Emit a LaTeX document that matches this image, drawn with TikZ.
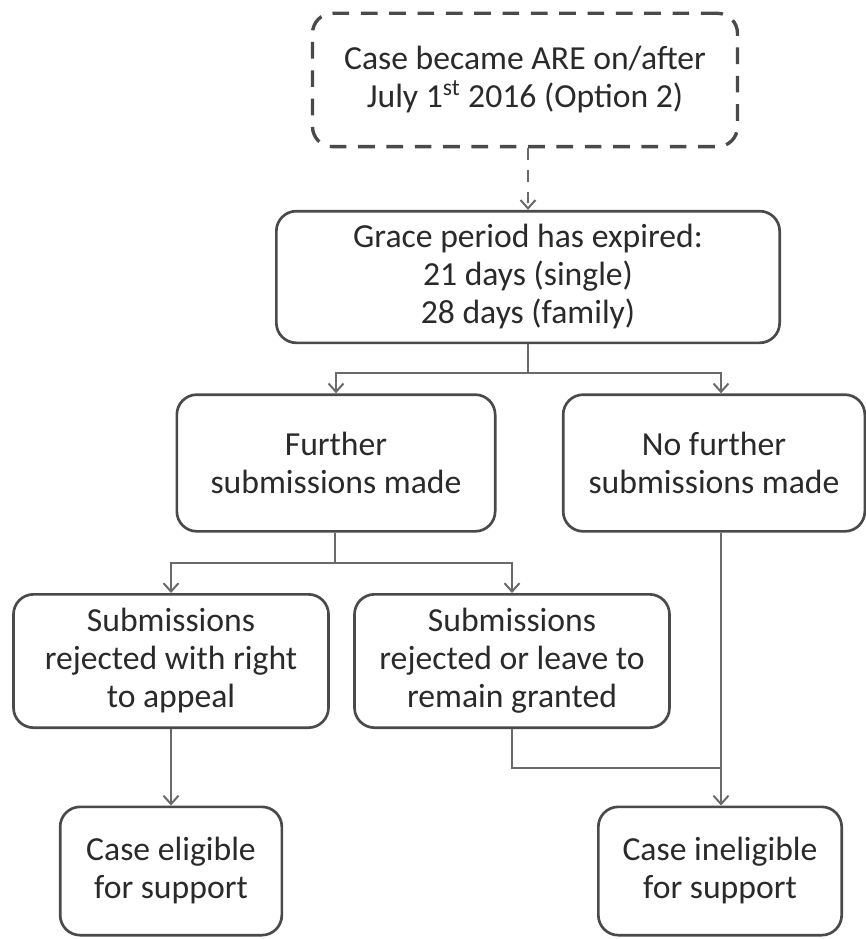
\documentclass[tikz,border=0pt]{standalone}
\usepackage{fontspec}
\setmainfont{Carlito}
\usetikzlibrary{arrows.meta}
\usetikzlibrary{positioning}
\definecolor{boxline}{HTML}{4A4A4A}
\definecolor{linkline}{HTML}{6A6A6A}
\definecolor{textgray}{HTML}{2A2A2A}
\tikzset {
  flow path/.style = {
    draw = linkline,
    line width = 1.2pt
  },
  % path style with an open arrow at the end
  arr/.style = {
    flow path,
    -{Straight Barb[length=5pt, width=9pt]}
  },
  % path style with no arrows
  narr/.style = {
    flow path
  }
}
\tikzset {
  flow node/.style = {
    draw = boxline,
    line width = 1.6pt,
    rounded corners = 12pt,
    text = textgray,
    align = center,
    inner sep = 0pt,
    font = \fontsize{20.2}{22.8}\selectfont
  },
  % step of the procedure
  stage/.style = {
    flow node,
    rectangle
  },
  % starting condition
  start/.style = {
    flow node,
    line width = 2pt,
    dashed,
    dash pattern = on 10pt off 7pt
  }
}

\begin{document}
\begin{tikzpicture}[x=0.6pt, y=-0.6pt]
    \useasboundingbox (0,0) rectangle (866,939);

    \node[start, minimum width=255pt, minimum height=80pt] (option) at (525,80)
      {Case became ARE on/after\\July 1\textsuperscript{st} 2016 (Option 2)};
    \node[stage, minimum width=302pt, minimum height=79pt] (grace) at (528,277)
      {Grace period has expired:\\21 days (single)\\28 days (family)};
    \coordinate (grace-split) at (528,373);

    \node[stage, minimum width=191pt, minimum height=82pt] (further) at (336,463)
      {Further\\submissions made};
    \node[stage, minimum width=181pt, minimum height=82pt] (nofurther) at (714,463)
      {No further\\submissions made};
    \coordinate (further-split) at (335,563);

    \node[stage, minimum width=189pt, minimum height=80pt] (appeal) at (171,661)
      {Submissions\\rejected with right\\to appeal};
    \node[stage, minimum width=189pt, minimum height=80pt] (granted) at (512,661)
      {Submissions\\rejected or leave to\\remain granted};
    \coordinate (ineligible-join) at (721,768);

    \node[stage, minimum width=133pt, minimum height=77pt] (eligible) at (171,871)
      {Case eligible\\for support};
    \node[stage, minimum width=146pt, minimum height=77pt] (ineligible) at (720,871)
      {Case ineligible\\for support};

    \draw[arr, dashed, dash pattern=on 7pt off 6pt] (option.south -| grace-split)
    -- (grace.north -| grace-split);

    \draw[narr] (grace.south -| grace-split) -- (grace-split);
    \draw[arr] (grace-split) -| (further.north);
    \draw[arr] (grace-split) -| (nofurther.north -| ineligible-join);

    \draw[narr] (further.south -| further-split) -- (further-split);
    \draw[arr] (further-split) -| (appeal.north);
    \draw[arr] (further-split) -| (granted.north);

    \draw[arr] (appeal.south) -- (eligible.north -| appeal.south);
    \draw[narr] (granted.south) |- (ineligible-join);
    \draw[arr] (nofurther.south -| ineligible-join)
    -- (ineligible.north -| ineligible-join);
\end{tikzpicture}
\end{document}
